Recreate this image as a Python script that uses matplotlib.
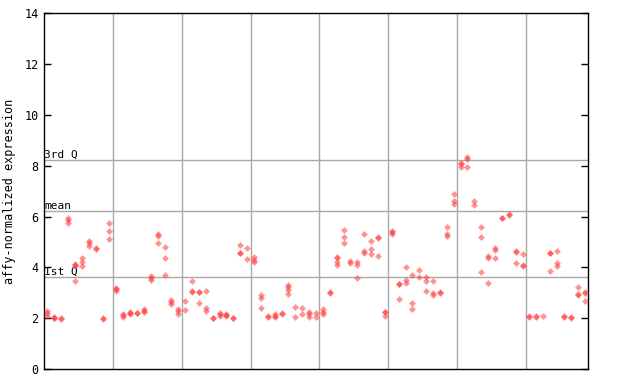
import matplotlib
matplotlib.use("Agg")
import matplotlib.pyplot as plt

# Expression values per sample column (several probes per column)
group1 = [[2.1, 2.2, 2.3], [2.0, 2.02, 2.05], [1.97, 2.0], [5.75, 5.85, 5.95],
          [3.46, 4.05, 4.1, 4.15], [4.05, 4.2, 4.35], [4.85, 4.95, 5.05], [4.72, 4.75],
          [1.97, 2.0], [5.1, 5.42, 5.73]]
group2 = [[3.08, 3.15, 3.2], [2.05, 2.12, 2.15], [2.15, 2.2, 2.25], [2.2, 2.22],
          [2.25, 2.3, 2.38], [3.5, 3.6, 3.65], [4.95, 5.25, 5.33], [3.69, 4.36, 4.82],
          [2.55, 2.62, 2.7], [2.15, 2.3, 2.35]]
group3 = [[2.32, 2.68], [3.04, 3.07, 3.46], [2.58, 3.04, 3.05], [2.28, 2.42, 3.07],
          [2.0, 2.02], [2.1, 2.15, 2.2], [2.08, 2.12, 2.18], [2.0, 2.02],
          [4.55, 4.58, 4.88], [4.32, 4.75]]
group4 = [[4.2, 4.3, 4.4], [2.39, 2.78, 2.92], [2.04, 2.08], [2.05, 2.1, 2.15],
          [2.15, 2.2], [2.95, 3.1, 3.22, 3.3], [2.03, 2.43], [2.17, 2.39],
          [2.05, 2.15, 2.25], [2.03, 2.22]]
group5 = [[2.15, 2.25, 2.35], [2.98, 3.05], [4.1, 4.22, 4.35, 4.42], [4.95, 5.18, 5.47],
          [4.18, 4.25], [3.57, 4.1, 4.2], [4.55, 4.65, 5.3], [4.53, 4.71, 5.05],
          [4.43, 5.17, 5.18], [2.09, 2.23, 2.25]]
group6 = [[5.3, 5.38, 5.45], [2.74, 3.35, 3.36], [3.37, 3.5, 4.0], [2.35, 2.58, 3.7],
          [3.61, 3.88], [3.07, 3.46, 3.61], [2.92, 3.0, 3.46], [2.98, 3.04],
          [5.22, 5.3, 5.58], [6.5, 6.6, 6.88]]
group7 = [[7.94, 8.07, 8.1], [7.94, 8.25, 8.35], [6.46, 6.6], [3.81, 5.18, 5.58],
          [3.37, 4.35, 4.45], [4.36, 4.7, 4.78], [5.95, 5.96], [6.08, 6.09],
          [4.16, 4.62, 4.63], [4.07, 4.08, 4.53]]
group8 = [[2.04, 2.07], [2.04, 2.07], [2.09], [3.86, 4.56, 4.57],
          [4.05, 4.18, 4.65], [2.05, 2.07], [2.0, 2.03], [2.93, 2.94, 3.23],
          [2.66, 2.98, 3.02]]

groups = [group1, group2, group3, group4, group5, group6, group7, group8]

q1_value = 3.61
mean_value = 6.21
q3_value = 8.22

yticks = [0, 2, 4, 6, 8, 10, 12, 14]
ylabel = "affy-normalized expression"

columns = [col for g in groups for col in g]
n_cols = len(columns)

fig = plt.figure(figsize=(6.4, 3.84), dpi=100)
ax = fig.add_axes([44 / 640, 15 / 384, 544 / 640, 355.7 / 384])

ax.set_xlim(-0.5, n_cols - 0.5)
ax.set_ylim(0, 14)

grid_c = "#a8a8a8"
pos = 0
for g in groups[:-1]:
    pos += len(g)
    ax.axvline(pos - 0.5, color=grid_c, lw=1, zorder=1)
for v in (q1_value, mean_value, q3_value):
    ax.axhline(v, color=grid_c, lw=1, zorder=1)

mono = "DejaVu Sans Mono"
for v, lab in ((q3_value, "3rd Q"), (mean_value, "mean"), (q1_value, "1st Q")):
    ax.text(-0.45, v + 0.02, lab, fontsize=8, family=mono, va="bottom", ha="left", zorder=3)

xs, ys = [], []
for i, col in enumerate(columns):
    for v in col:
        xs.append(i)
        ys.append(v)
ax.scatter(xs, ys, marker="D", s=12, color="#ff3b3b", alpha=0.55, linewidths=0, zorder=4)

ax.set_xticks([])
ax.set_yticks(yticks)
ax.set_yticklabels([str(t) for t in yticks], family=mono, fontsize=8.5)
ax.tick_params(axis="y", direction="in", length=5, width=1, right=True, pad=4)
for s in ax.spines.values():
    s.set_color("black")
    s.set_linewidth(1)
ax.set_ylabel(ylabel, family=mono, fontsize=8.5)
ax.yaxis.set_label_coords(-0.052, 0.5)

fig.savefig("out.png", dpi=100)
